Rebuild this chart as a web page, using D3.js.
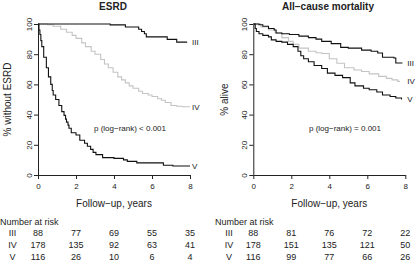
<!DOCTYPE html>
<html>
<head>
<meta charset="utf-8">
<script src="https://cdn.jsdelivr.net/npm/d3@7"></script>
<style>
  body { margin: 0; background: #fff; }
  text { font-family: "Liberation Sans", Arial, sans-serif; fill: #222; }
</style>
</head>
<body>
<div id="chart"></div>
<script>
const timeTicks = [0, 2, 4, 6, 8];
const pctTicks = [0, 20, 40, 60, 80, 100];
const groups = ["III", "IV", "V"];

// ESRD curves [years, % without ESRD]
const esrdIII = [[0,100],[3.8,99.4],[4.6,98],[5.3,96.5],[5.45,95],[5.6,93.5],[5.7,91.5],[6.8,89.8],[7.3,88],[7.85,88]];
const esrdIV = [[0,100],[0.5,99.5],[0.8,98.5],[1.2,96.5],[1.5,94.5],[1.8,92.5],[2.0,90.5],[2.3,87.5],[2.5,85],[2.8,82],[3.0,80],[3.3,76.5],[3.5,73.5],[3.7,71],[3.95,68],[4.2,65],[4.4,63],[4.6,61],[4.8,59],[5.0,57.5],[5.3,55.5],[5.5,54],[5.8,53],[6.0,52],[6.3,50.5],[6.5,49.5],[6.7,48],[7.0,46],[7.3,45.5],[7.6,45.2],[8,45.2]];
const esrdV = [[0,100],[0.05,96],[0.1,93],[0.15,89],[0.2,85],[0.3,78],[0.44,71],[0.55,65],[0.67,60],[0.75,56],[0.8,53],[0.93,50],[1.1,46],[1.25,42],[1.37,39.5],[1.45,37],[1.5,35],[1.58,33],[1.63,31],[1.75,28],[2.0,26.5],[2.2,23],[2.45,21],[2.6,19],[2.77,17],[2.9,15],[3.05,13.5],[3.4,11.5],[4.0,11],[4.5,10],[4.7,9],[5.2,8],[6.6,6.5],[7.1,6],[8,6]];

// All-cause mortality curves [years, % alive]
const mortIII = [[0,100],[0.3,99.5],[0.5,98.5],[0.8,97],[1.1,96],[1.2,94],[1.5,93.5],[1.9,93],[2.4,92],[2.9,91],[3.3,90],[3.6,88.5],[4.1,87],[4.6,84.5],[5.0,84],[5.7,82.7],[6.2,82],[6.55,80.8],[6.8,78],[7.4,77.5],[7.5,74.2],[7.85,74.2]];
const mortIV = [[0,100],[0.4,98],[0.8,96],[1.15,94],[1.5,91],[1.85,88.5],[2.1,86.5],[2.4,84],[2.9,82],[3.3,81],[3.6,80.5],[4.0,77],[4.4,74],[4.8,71],[5.3,69.5],[5.7,68.5],[6.1,67],[6.6,65.3],[7.0,64],[7.3,63],[7.6,62],[7.7,61.8]];
const mortV = [[0,100],[0.1,97],[0.16,95],[0.3,93.5],[0.5,92.5],[0.8,91.5],[0.95,89.5],[1.2,88.5],[1.5,88],[1.8,86.5],[2.1,85],[2.35,82],[2.5,79],[2.65,77],[2.9,75],[3.2,72.5],[3.6,70.5],[3.9,67.5],[4.3,66],[4.7,64.5],[5.1,61],[5.35,59],[5.8,57.5],[6.1,56.5],[6.5,55],[6.8,53],[7.2,52],[7.5,51],[7.8,50]];

// number at risk at 0, 2, 4, 6, 8 years
const riskEsrd = [[88,77,69,55,35],[178,135,92,63,41],[116,26,10,6,4]];
const riskMort = [[88,81,76,72,22],[178,151,135,121,50],[116,99,77,66,26]];

const curveColors = ["#111", "#c4c4c4", "#111"];

const W = 416, H = 264;
const svg = d3.select("#chart").append("svg")
    .attr("width", W).attr("height", H);

function drawPanel(opts) {
    const x = d3.scaleLinear().domain([0, 8]).range([opts.left, opts.left + 152]);
    const y = d3.scaleLinear().domain([0, 100]).range([175, 24]);
    const g = svg.append("g");

    // title
    g.append("text")
        .attr("x", opts.titleX).attr("y", 10)
        .attr("text-anchor", "middle")
        .style("font-size", "10px").style("font-weight", "bold")
        .text(opts.title);

    // x axis
    const xa = g.append("g")
        .attr("transform", `translate(0,${y(0)})`)
        .call(d3.axisBottom(x).tickValues(timeTicks).tickSize(4).tickSizeOuter(0).tickPadding(4));
    xa.select(".domain").attr("stroke", "#222");
    xa.selectAll(".tick line").attr("stroke", "#222");
    xa.selectAll(".tick text").style("font-size", "8px").attr("font-family", null).attr("fill", "#222");

    // y axis, labels turned like R
    const ya = g.append("g")
        .attr("transform", `translate(${x(0)},0)`)
        .call(d3.axisLeft(y).tickValues(pctTicks).tickSize(4).tickSizeOuter(0));
    ya.select(".domain").attr("stroke", "#222");
    ya.selectAll(".tick line").attr("stroke", "#222");
    ya.selectAll(".tick text")
        .style("font-size", "8px").attr("font-family", null).attr("fill", "#222")
        .attr("x", null).attr("dy", null)
        .attr("text-anchor", "middle")
        .attr("transform", `translate(${-6.5},0) rotate(-90)`);

    g.append("text")
        .attr("transform", `translate(${opts.ylabX},${(y(0) + y(100)) / 2}) rotate(-90)`)
        .attr("text-anchor", "middle")
        .style("font-size", "10px")
        .text(opts.ylab);

    g.append("text")
        .attr("x", (x(0) + x(8)) / 2).attr("y", 207)
        .attr("text-anchor", "middle")
        .style("font-size", "10px")
        .text("Follow\u2212up, years");

    // curves
    const line = d3.line()
        .x(d => x(d[0])).y(d => y(d[1]))
        .curve(d3.curveStepAfter);

    // grey first so the black ones sit on top
    [1, 0, 2].forEach(i => {
        g.append("path")
            .attr("d", line(opts.curves[i]))
            .attr("fill", "none")
            .attr("stroke", curveColors[i])
            .attr("stroke-width", 1.1);
    });

    opts.curves.forEach((c, i) => {
        const last = c[c.length - 1];
        g.append("text")
            .attr("x", x(8) + 2).attr("y", y(last[1]))
            .attr("dy", "0.35em")
            .style("font-size", "8px")
            .text(groups[i]);
    });

    g.append("text")
        .attr("x", opts.pX).attr("y", 131)
        .attr("text-anchor", "middle")
        .style("font-size", "8px")
        .text(opts.pText);

    // number at risk table
    g.append("text")
        .attr("x", opts.riskX).attr("y", 225)
        .style("font-size", "9px")
        .text("Number at risk");

    opts.risk.forEach((row, i) => {
        const ry = 236 + i * 12;
        g.append("text")
            .attr("x", opts.rowLabX).attr("y", ry)
            .attr("text-anchor", "middle")
            .style("font-size", "9px")
            .text(groups[i]);
        g.selectAll(null)
            .data(row)
            .join("text")
            .attr("x", (d, j) => x(timeTicks[j]))
            .attr("y", ry)
            .attr("text-anchor", "middle")
            .style("font-size", "9px")
            .text(d => d);
    });
}

drawPanel({
    left: 38, title: "ESRD", titleX: 113,
    ylab: "% without ESRD", ylabX: 11,
    curves: [esrdIII, esrdIV, esrdV],
    pText: "p (log\u2212rank) < 0.001", pX: 130,
    risk: riskEsrd, riskX: 0, rowLabX: 12.5
});

drawPanel({
    left: 253.3, title: "All\u2212cause mortality", titleX: 328,
    ylab: "% alive", ylabX: 228,
    curves: [mortIII, mortIV, mortV],
    pText: "p (log\u2212rank) = 0.001", pX: 345,
    risk: riskMort, riskX: 215, rowLabX: 229
});
</script>
</body>
</html>
